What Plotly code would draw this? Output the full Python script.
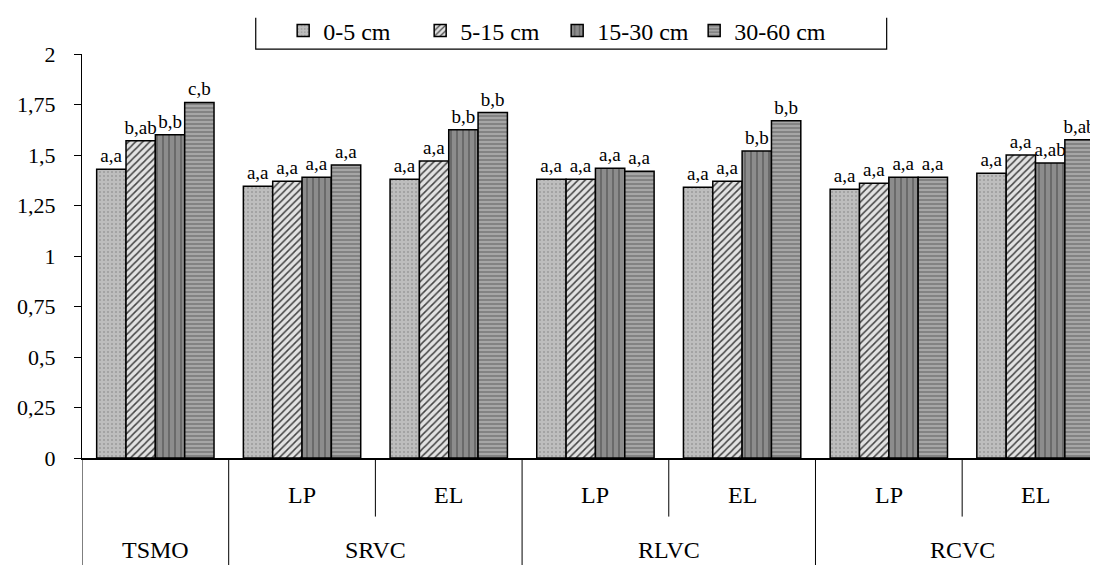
import plotly.graph_objects as go

groups = ["TSMO", "SRVC", "SRVC", "RLVC", "RLVC", "RCVC", "RCVC"]
subs = ["", "LP", "EL", "LP", "EL", "LP", "EL"]
depths = ["0-5 cm", "5-15 cm", "15-30 cm", "30-60 cm"]

v_0_5 = [1.43, 1.345, 1.38, 1.38, 1.34, 1.33, 1.41]
v_5_15 = [1.57, 1.37, 1.47, 1.38, 1.37, 1.36, 1.50]
v_15_30 = [1.60, 1.39, 1.625, 1.435, 1.52, 1.39, 1.46]
v_30_60 = [1.76, 1.45, 1.71, 1.42, 1.67, 1.39, 1.575]

lab_0_5 = ["a,a", "a,a", "a,a", "a,a", "a,a", "a,a", "a,a"]
lab_5_15 = ["b,ab", "a,a", "a,a", "a,a", "a,a", "a,a", "a,a"]
lab_15_30 = ["b,b", "a,a", "b,b", "a,a", "b,b", "a,a", "a,ab"]
lab_30_60 = ["c,b", "a,a", "b,b", "a,a", "b,b", "a,a", "b,ab"]

cats = [f"{g} {s}".strip() for g, s in zip(groups, subs)]
values = [v_0_5, v_5_15, v_15_30, v_30_60]
labels = [lab_0_5, lab_5_15, lab_15_30, lab_30_60]

styles = [
    dict(color="#bdbdbd", pattern=dict(shape=".", fgcolor="#9a9a9a", size=4, solidity=0.2)),
    dict(color="#e2e2e2", pattern=dict(shape="/", fgcolor="#444444", size=5, solidity=0.3)),
    dict(color="#8c8c8c", pattern=dict(shape="|", fgcolor="#666666", size=6, solidity=0.3)),
    dict(color="#a6a6a6", pattern=dict(shape="-", fgcolor="#6c6c6c", size=4, solidity=0.3)),
]

SERIF = "'Liberation Serif', 'Times New Roman', Times, 'DejaVu Serif', serif"

fig = go.Figure()
for name, vals, labs, st in zip(depths, values, labels, styles):
    fig.add_trace(go.Bar(
        x=cats, y=vals, name=name, text=labs,
        textposition="outside", textangle=0, constraintext="none",
        cliponaxis=False,
        textfont=dict(family=SERIF, size=19, color="black"),
        marker=dict(color=st["color"], pattern=dict(fillmode="replace", bgcolor=st["color"], **st["pattern"]),
                    line=dict(color="black", width=1.5)),
    ))

shapes = []
for xv in [-0.5, 0.5, 2.5, 4.5]:
    shapes.append(dict(type="line", xref="x", yref="paper", x0=xv, x1=xv, y0=0, y1=-0.3,
                       line=dict(color="black", width=1)))
for xv in [1.5, 3.5, 5.5]:
    shapes.append(dict(type="line", xref="x", yref="paper", x0=xv, x1=xv, y0=0, y1=-0.145,
                       line=dict(color="black", width=1)))
shapes.append(dict(type="path", xref="paper", yref="paper",
                   path="M 0.171 1.09 L 0.171 1.012 L 0.792 1.012 L 0.792 1.09",
                   line=dict(color="black", width=1.2)))

annotations = []
for i, s in enumerate(subs):
    if s:
        annotations.append(dict(x=i, y=-0.091, xref="x", yref="paper", text=s, showarrow=False,
                                font=dict(family=SERIF, size=24, color="black"), yanchor="middle"))
seen = {}
for i, g in enumerate(groups):
    seen.setdefault(g, []).append(i)
for g, idx in seen.items():
    annotations.append(dict(x=sum(idx) / len(idx), y=-0.228, xref="x", yref="paper", text=g,
                            showarrow=False, font=dict(family=SERIF, size=24, color="black"),
                            yanchor="middle"))

fig.update_layout(
    width=1090, height=557,
    margin=dict(l=74, r=0, t=44, b=107),
    paper_bgcolor="white", plot_bgcolor="white",
    font=dict(family=SERIF, color="black"),
    barmode="group", bargap=0.2, bargroupgap=0,
    separators=", ",
    showlegend=True,
    legend=dict(orientation="h", x=0.198, xanchor="left", y=1.057, yanchor="middle",
                font=dict(family=SERIF, size=24, color="black"), traceorder="normal",
                itemwidth=30, entrywidth=92, bgcolor="rgba(0,0,0,0)"),
    shapes=shapes, annotations=annotations,
    xaxis=dict(type="category", range=[-0.5, 6.426], showticklabels=False, ticks="",
               showline=True, linecolor="black", linewidth=1.5, showgrid=False, zeroline=False),
    yaxis=dict(range=[0, 2], tickvals=[0, 0.25, 0.5, 0.75, 1, 1.25, 1.5, 1.75, 2],
               ticks="outside", ticklen=7, tickcolor="black", showline=True, linecolor="black",
               linewidth=1, showgrid=False, zeroline=False, ticklabelstandoff=14,
               tickfont=dict(family=SERIF, size=22, color="black")),
)

fig.write_html("out.html")
